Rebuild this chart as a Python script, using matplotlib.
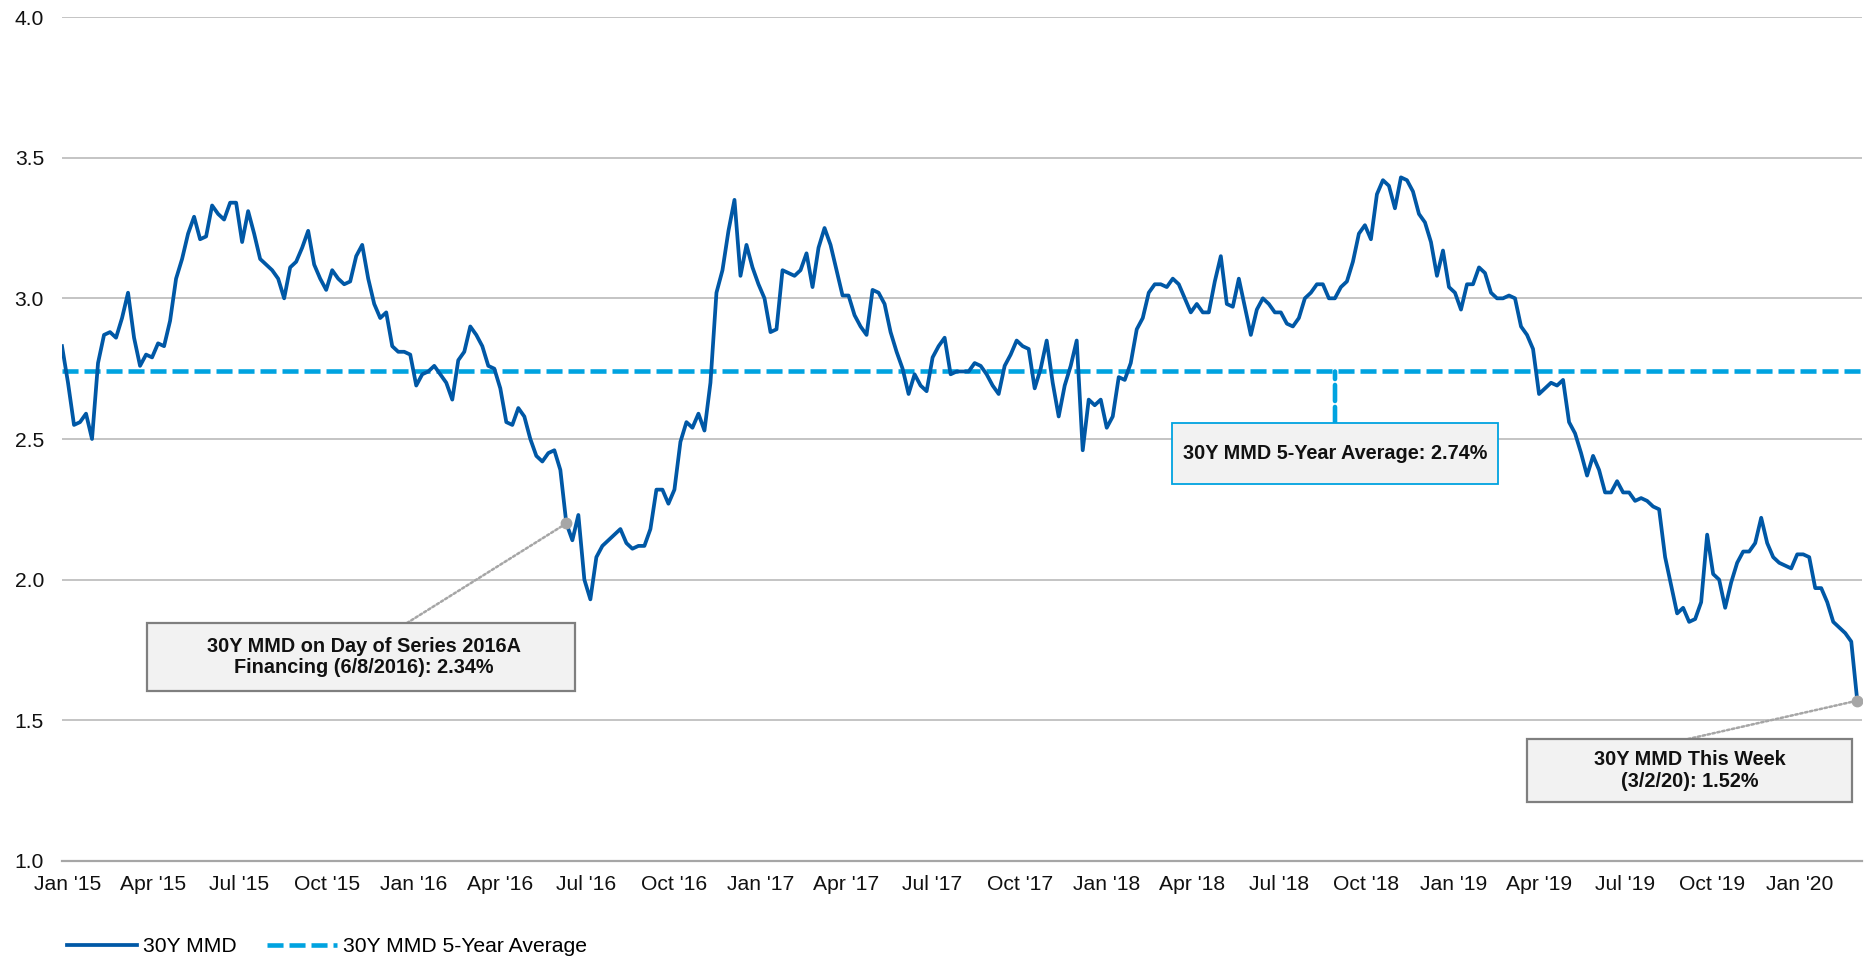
import matplotlib
matplotlib.use('Agg')
import matplotlib.pyplot as plt
import matplotlib.dates as mdates
from matplotlib.patches import Rectangle, ConnectionPatch
from matplotlib.transforms import blended_transform_factory
import numpy as np
import pandas as pd

plt.rcParams['font.family'] = ['Liberation Sans', 'DejaVu Sans']

# 30Y MMD yield (%), evenly spaced from late Dec 2014 to 3/2/2020
mmd_30y = [
    2.83, 2.70, 2.55, 2.56, 2.59, 2.50, 2.77, 2.87, 2.88, 2.86,
    2.93, 3.02, 2.86, 2.76, 2.80, 2.79, 2.84, 2.83, 2.92, 3.07,
    3.14, 3.23, 3.29, 3.21, 3.22, 3.33, 3.30, 3.28, 3.34, 3.34,
    3.20, 3.31, 3.23, 3.14, 3.12, 3.10, 3.07, 3.00, 3.11, 3.13,
    3.18, 3.24, 3.12, 3.07, 3.03, 3.10, 3.07, 3.05, 3.06, 3.15,
    3.19, 3.07, 2.98, 2.93, 2.95, 2.83, 2.81, 2.81, 2.80, 2.69,
    2.73, 2.74, 2.76, 2.73, 2.70, 2.64, 2.78, 2.81, 2.90, 2.87,
    2.83, 2.76, 2.75, 2.68, 2.56, 2.55, 2.61, 2.58, 2.50, 2.44,
    2.42, 2.45, 2.46, 2.39, 2.20, 2.14, 2.23, 2.00, 1.93, 2.08,
    2.12, 2.14, 2.16, 2.18, 2.13, 2.11, 2.12, 2.12, 2.18, 2.32,
    2.32, 2.27, 2.32, 2.49, 2.56, 2.54, 2.59, 2.53, 2.70, 3.02,
    3.10, 3.24, 3.35, 3.08, 3.19, 3.11, 3.05, 3.00, 2.88, 2.89,
    3.10, 3.09, 3.08, 3.10, 3.16, 3.04, 3.18, 3.25, 3.19, 3.10,
    3.01, 3.01, 2.94, 2.90, 2.87, 3.03, 3.02, 2.98, 2.88, 2.81,
    2.75, 2.66, 2.73, 2.69, 2.67, 2.79, 2.83, 2.86, 2.73, 2.74,
    2.74, 2.74, 2.77, 2.76, 2.73, 2.69, 2.66, 2.76, 2.80, 2.85,
    2.83, 2.82, 2.68, 2.75, 2.85, 2.70, 2.58, 2.69, 2.76, 2.85,
    2.46, 2.64, 2.62, 2.64, 2.54, 2.58, 2.72, 2.71, 2.77, 2.89,
    2.93, 3.02, 3.05, 3.05, 3.04, 3.07, 3.05, 3.00, 2.95, 2.98,
    2.95, 2.95, 3.06, 3.15, 2.98, 2.97, 3.07, 2.97, 2.87, 2.96,
    3.00, 2.98, 2.95, 2.95, 2.91, 2.90, 2.93, 3.00, 3.02, 3.05,
    3.05, 3.00, 3.00, 3.04, 3.06, 3.13, 3.23, 3.26, 3.21, 3.37,
    3.42, 3.40, 3.32, 3.43, 3.42, 3.38, 3.30, 3.27, 3.20, 3.08,
    3.17, 3.04, 3.02, 2.96, 3.05, 3.05, 3.11, 3.09, 3.02, 3.00,
    3.00, 3.01, 3.00, 2.90, 2.87, 2.82, 2.66, 2.68, 2.70, 2.69,
    2.71, 2.56, 2.52, 2.45, 2.37, 2.44, 2.39, 2.31, 2.31, 2.35,
    2.31, 2.31, 2.28, 2.29, 2.28, 2.26, 2.25, 2.08, 1.98, 1.88,
    1.90, 1.85, 1.86, 1.92, 2.16, 2.02, 2.00, 1.90, 1.99, 2.06,
    2.10, 2.10, 2.13, 2.22, 2.13, 2.08, 2.06, 2.05, 2.04, 2.09,
    2.09, 2.08, 1.97, 1.97, 1.92, 1.85, 1.83, 1.81, 1.78, 1.57,
]
dates = pd.date_range('2014-12-26', '2020-03-02', periods=len(mmd_30y))
avg_5y = 2.74
financing_date = pd.Timestamp('2016-06-08')
y_ticks = [1.0, 1.5, 2.0, 2.5, 3.0, 3.5, 4.0]

avg_text = '30Y MMD 5-Year Average: 2.74%'
fin_text = '30Y MMD on Day of Series 2016A\nFinancing (6/8/2016): 2.34%'
week_text = '30Y MMD This Week\n(3/2/20): 1.52%'

dark_blue = '#0058A6'
light_blue = '#00A3E0'
grey = '#A6A6A6'

W, H = 1866, 958
fig = plt.figure(figsize=(W / 100, H / 100), dpi=100)
ax = fig.add_axes([62 / W, 1 - 861 / H, 1800 / W, 844 / H])

line_mmd, = ax.plot(dates, mmd_30y, color=dark_blue, lw=2.7, zorder=3,
                    label='30Y MMD')
line_avg = ax.axhline(avg_5y, color=light_blue, lw=3.3, ls=(0, (3.5, 1.3)),
                      zorder=2, label='30Y MMD 5-Year Average')

ax.set_ylim(1.0, 4.0)
ax.set_yticks(y_ticks)
ax.yaxis.set_major_formatter(plt.FuncFormatter(lambda v, p: f'{v:.1f}'))
ax.set_xlim(pd.Timestamp('2014-12-26'), pd.Timestamp('2020-03-07'))
ax.xaxis.set_major_locator(mdates.MonthLocator(bymonth=[1, 4, 7, 10]))
ax.xaxis.set_major_formatter(mdates.DateFormatter("%b '%y"))

ax.yaxis.grid(True, color='#BFBFBF', lw=1.3)
ax.set_axisbelow(True)
for s in ['top', 'right', 'left']:
    ax.spines[s].set_visible(False)
ax.spines['bottom'].set_color('#A6A6A6')
ax.spines['bottom'].set_linewidth(1.6)
ax.tick_params(axis='both', length=0, labelsize=15.2, colors='#111111')
ax.tick_params(axis='y', pad=13)
ax.tick_params(axis='x', pad=10)

# marker points
fin_idx = int(np.argmin(np.abs(dates - financing_date)))
last_idx = len(mmd_30y) - 1
for i in [fin_idx, last_idx]:
    ax.plot(dates[i], mmd_30y[i], 'o', color=grey, ms=7.5, zorder=5)


def px(x, y):
    return x / W, 1 - y / H


def add_box(x0, y0, x1, y1, ec, lw, text, tx=None):
    fig.add_artist(Rectangle(px(x0, y1), (x1 - x0) / W, (y1 - y0) / H,
                             transform=fig.transFigure, fc='#F2F2F2', ec=ec,
                             lw=lw, zorder=6))
    if tx is None:
        tx = (x0 + x1) / 2
    fig.text(tx / W, 1 - (y0 + y1) / 2 / H, text, ha='center',
             va='center', fontsize=14.3, fontweight='bold', linespacing=1.17,
             color='#111111', zorder=7)


add_box(1172, 423, 1498, 484, light_blue, 1.3, avg_text)
add_box(147, 623, 575, 691, '#7F7F7F', 1.6, fin_text, tx=364)
add_box(1527, 739, 1852, 802, '#7F7F7F', 1.6, week_text)

# connectors
fig.add_artist(ConnectionPatch(
    xyA=px(407, 623), coordsA=fig.transFigure,
    xyB=(mdates.date2num(dates[fin_idx]), mmd_30y[fin_idx]), coordsB=ax.transData,
    color=grey, lw=1.8, ls=(0, (1, 1)), zorder=4))
fig.add_artist(ConnectionPatch(
    xyA=px(1688, 739), coordsA=fig.transFigure,
    xyB=(mdates.date2num(dates[last_idx]), mmd_30y[last_idx]), coordsB=ax.transData,
    color=grey, lw=1.8, ls=(0, (1, 1)), zorder=4))
fig.add_artist(ConnectionPatch(
    xyA=px(1335, 423), coordsA=fig.transFigure,
    xyB=(1335 / W, avg_5y), coordsB=blended_transform_factory(fig.transFigure, ax.transData),
    color=light_blue, lw=3.3, ls=(0, (3.5, 1.3)), zorder=4))

fig.legend(handles=[line_mmd, line_avg], loc='center left',
           bbox_to_anchor=px(67, 947), ncol=2, frameon=False, fontsize=15.2,
           handlelength=3.3, handletextpad=0.28, columnspacing=1.47,
           borderpad=0, borderaxespad=0)

fig.savefig('out.png', dpi=100)
